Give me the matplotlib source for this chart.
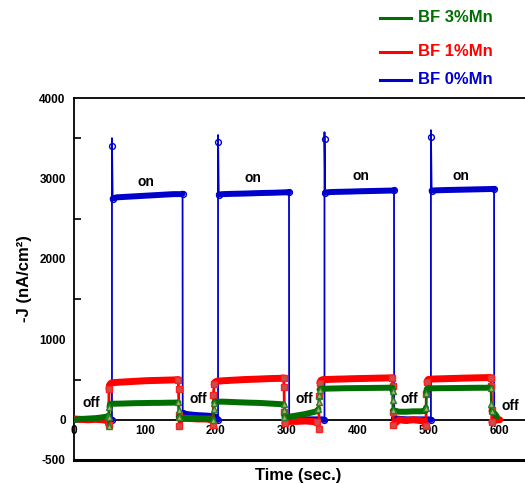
import numpy as np
import matplotlib
matplotlib.use('Agg')
import matplotlib.pyplot as plt
from matplotlib.lines import Line2D

plt.rcParams['font.family'] = ['Liberation Sans', 'DejaVu Sans']
plt.rcParams['font.weight'] = 'bold'

# ---------------- data ----------------
series_labels = ['BF 3%Mn', 'BF 1%Mn', 'BF 0%Mn']
series_colors = ['#006e00', '#ff0000', '#0000cc']

# BF 0%Mn (blue)
t_blue = [0, 10, 20, 30, 40, 50, 53.5,
          53.5, 53.6, 54.5,
          60, 70, 80, 90, 100, 110, 120, 130, 140, 150, 153,
          153.2, 160, 170, 180, 190, 200, 203,
          203, 203.1, 204,
          210, 220, 230, 240, 250, 260, 270, 280, 290, 300, 303,
          303.2, 310, 320, 330, 340, 350, 353,
          353, 353.1, 354,
          360, 370, 380, 390, 400, 410, 420, 430, 440, 450, 451,
          451.2, 460, 470, 480, 490, 500, 503,
          503, 503.1, 504,
          510, 520, 530, 540, 550, 560, 570, 580, 590, 592,
          592.2, 597]
j_blue = [0, 5, 5, 10, 5, 5, 0,
          3500, 3400, 2750,
          2765, 2770, 2775, 2780, 2785, 2790, 2795, 2800, 2805, 2805, 2810,
          80, 70, 60, 55, 50, 40, 0,
          3540, 3450, 2800,
          2805, 2808, 2810, 2812, 2815, 2818, 2820, 2822, 2825, 2828, 2830,
          20, 10, 5, 5, 5, 5, 0,
          3575, 3490, 2825,
          2830, 2833, 2835, 2837, 2840, 2842, 2844, 2846, 2848, 2850, 2852,
          20, 10, 5, 5, 5, 5, 0,
          3600, 3510, 2850,
          2852, 2855, 2857, 2859, 2861, 2863, 2865, 2867, 2869, 2870,
          20, 0]

# BF 1%Mn (red)
t_red = [0, 10, 20, 30, 40, 47, 49,
         49.3, 50, 51.5, 53.5,
         60, 70, 80, 90, 100, 110, 120, 130, 140, 147,
         147.3, 148, 148.5,
         155, 165, 175, 185, 193, 196,
         196.5, 197.5, 199, 202,
         210, 220, 230, 240, 250, 260, 270, 280, 290, 295.5,
         296, 296.5, 297,
         305, 315, 325, 335, 343, 345,
         345.5, 346.5, 348, 351,
         360, 370, 380, 390, 400, 410, 420, 430, 440, 448.5,
         449, 449.5, 450,
         458, 468, 478, 488, 494, 496,
         496.5, 497.5, 499, 502,
         510, 520, 530, 540, 550, 560, 570, 580, 587.5,
         588, 588.5, 589,
         595, 600]
j_red = [10, 5, 0, 5, 0, -10, -60,
         380, 430, 450, 460,
         465, 470, 475, 480, 485, 488, 490, 493, 495, 500,
         380, 60, -80,
         20, 15, 10, 10, 5, -60,
         310, 440, 470, 480,
         485, 490, 495, 500, 503, 506, 510, 513, 515, 520,
         410, 100, -40,
         -20, -20, -15, -20, -30, -120,
         300, 460, 490, 500,
         502, 505, 507, 510, 512, 514, 516, 518, 520, 522,
         420, 100, -60,
         0, -10, 0, -10, -20, -80,
         320, 470, 500, 505,
         508, 510, 513, 515, 518, 520, 522, 524, 525,
         420, 120, -30,
         0, 0]

# BF 3%Mn (green)
t_green = [0, 10, 20, 30, 40, 46, 48.5,
           49, 49.5, 50, 51,
           60, 70, 80, 90, 100, 110, 120, 130, 140, 147,
           147.5, 148, 148.5,
           155, 165, 175, 185, 195, 196.5,
           197, 197.5, 199,
           210, 220, 230, 240, 250, 260, 270, 280, 290, 295.5,
           296, 296.5, 297,
           305, 315, 325, 335, 344,
           344.5, 345, 345.5, 346, 348,
           360, 370, 380, 390, 400, 410, 420, 430, 440, 448.5,
           449, 449.5, 450,
           458, 468, 478, 488, 495.5,
           496, 496.5, 497, 499,
           510, 520, 530, 540, 550, 560, 570, 580, 587.5,
           588, 588.5, 590,
           593, 596]
j_green = [0, 10, 15, 20, 30, 40, 50,
           -80, 40, 160, 200,
           200, 202, 205, 207, 208, 210, 210, 212, 213, 215,
           120, 40, 10,
           15, 10, 10, 10, 5, 0,
           140, 210, 225,
           225, 222, 218, 215, 212, 210, 205, 200, 195, 190,
           125, 40, 20,
           40, 55, 70, 90, 110,
           135, 225, 310, 375, 385,
           388, 390, 392, 393, 394, 395, 396, 397, 398, 400,
           360, 240, 120,
           100, 100, 105, 105, 110,
           150, 330, 380, 390,
           392, 393, 394, 395, 396, 397, 398, 398, 400,
           200, 110, 90,
           75, 40]

x_ticks = [0, 100, 200, 300, 400, 500, 600]
y_ticks = [-500, 0, 1000, 2000, 3000, 4000]

on_labels = [(101, 2960), (252, 3010), (404, 3025), (545, 3025)]
off_labels = [(25, 212), (175, 262), (324, 262), (472, 262), (615, 175)]


# ---------------- helpers ----------------
def plateau_segments(t, y, thr):
    bt, by = [t[0]], [y[0]]
    for i in range(1, len(t)):
        if abs(y[i] - y[i - 1]) > thr:
            bt.append(np.nan)
            by.append(np.nan)
        bt.append(t[i])
        by.append(y[i])
    return bt, by


def transition_idx(y, thr):
    n = len(y)
    idx = []
    for i in range(n):
        prev = abs(y[i] - y[i - 1]) if i > 0 else 0
        nxt = abs(y[i + 1] - y[i]) if i < n - 1 else 0
        if prev > thr or nxt > thr:
            if 0 < i < n - 1 and y[i] > y[i - 1] + thr and y[i] > y[i + 1]:
                continue
            idx.append(i)
    return idx


# ---------------- figure ----------------
W, H = 525, 484
fig = plt.figure(figsize=(W / 100, H / 100), dpi=100)
ax = fig.add_axes([74 / W, 24 / H, 452 / W, 362 / H])
ax.set_xlim(0, 637)
ax.set_ylim(-500, 4000)

styles = {
    'BF 0%Mn': dict(t=t_blue, y=j_blue, color='#0000cc', thin=1.3, band=4.3,
                    marker='o', ms=4.2, mfc='none', mec='#0000cc', z=3),
    'BF 1%Mn': dict(t=t_red, y=j_red, color='#ff0000', thin=2.0, band=5.0,
                    marker='s', ms=4.8, mfc='#c85050', mec='#ff2020', z=4),
    'BF 3%Mn': dict(t=t_green, y=j_green, color='#006e00', thin=1.6, band=4.3,
                    marker='^', ms=4.6, mfc='#a8b860', mec='#2e7d2e', z=5),
}

for name in ['BF 0%Mn', 'BF 1%Mn', 'BF 3%Mn']:
    s = styles[name]
    bt, by = plateau_segments(s['t'], s['y'], 60)
    ax.plot(bt, by, color=s['color'], lw=s['band'], solid_capstyle='round',
            solid_joinstyle='round', zorder=s['z'])
    ax.plot(s['t'], s['y'], color=s['color'], lw=s['thin'], zorder=s['z'],
            marker=s['marker'], ms=s['ms'], mfc=s['mfc'], mec=s['mec'], mew=1.0,
            markevery=transition_idx(s['y'], 60))

# annotations
for (x, y) in on_labels:
    ax.text(x, y, 'on', fontsize=10, fontweight='bold', ha='center', va='center', zorder=6)
for (x, y) in off_labels:
    ax.text(x, y, 'off', fontsize=10, fontweight='bold', ha='center', va='center', zorder=6)

# spines / axes styling
for sp in ['left', 'top', 'bottom']:
    ax.spines[sp].set_linewidth(1.3)
ax.spines['right'].set_visible(False)
ax.spines['bottom'].set_position(('data', 0))
ax.spines['bottom'].set_zorder(2)
ax.axhline(-500, color='black', lw=2.2, clip_on=False, zorder=2)

ax.set_xticks(x_ticks)
ax.set_xticklabels([str(v) for v in x_ticks])
ax.set_xticks([200, 400, 600], minor=True)
ax.tick_params(axis='x', which='major', length=0, pad=3.5, labelsize=8.5)
ax.tick_params(axis='x', which='minor', direction='in', length=4, width=1.2)

ax.set_yticks(y_ticks)
ax.set_yticklabels([str(v) for v in y_ticks])
ax.set_yticks([500, 1500, 2500, 3500], minor=True)
ax.tick_params(axis='y', which='major', length=0, pad=6, labelsize=8.5)
ax.tick_params(axis='y', which='minor', direction='in', length=5, width=1.2)
for lab in ax.get_xticklabels() + ax.get_yticklabels():
    lab.set_fontweight('bold')

ax.set_ylabel('-J (nA/cm\u00b2)', fontsize=12, fontweight='bold')
ax.yaxis.set_label_coords(-0.093, 0.5)
ax.set_xlabel('Time (sec.)', fontsize=12, fontweight='bold')
ax.xaxis.set_label_coords(0.497, -0.022)

# legend (manual, outside the axes, top right)
legend_y_px = [18, 52, 80]
for label, color, ypx in zip(series_labels, series_colors, legend_y_px):
    yy = 1 - ypx / H
    fig.add_artist(Line2D([380 / W, 411 / W], [yy, yy], color=color, lw=2.2))
    fig.text(418 / W, yy, label, color=color, fontsize=12, fontweight='bold',
             va='center', ha='left')

fig.savefig('out.png', dpi=100)
